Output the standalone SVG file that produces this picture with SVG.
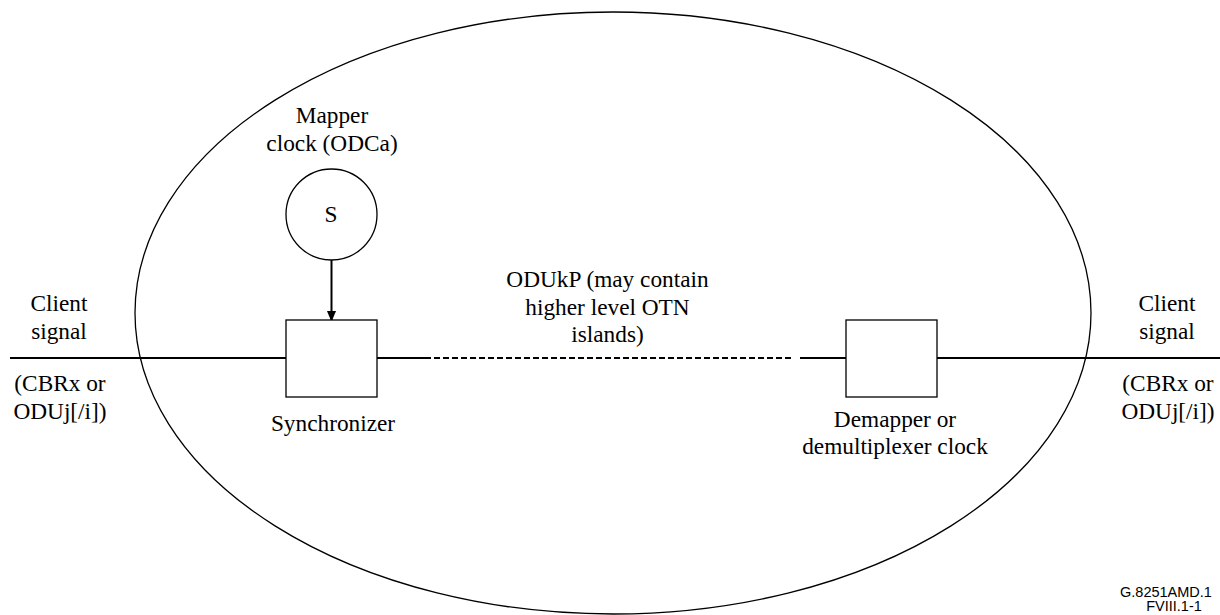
<svg xmlns="http://www.w3.org/2000/svg" width="1220" height="615" viewBox="0 0 1220 615">
<style>
  .t { font-family: "Liberation Serif", "Times New Roman", serif; font-size: 23.3px; fill: #000; text-anchor: middle; }
  .f { font-family: "Liberation Sans", Arial, sans-serif; font-size: 14.5px; fill: #000; text-anchor: middle; }
  .shape { fill: #fff; stroke: #000; stroke-width: 1.3; }
  .wire { fill: none; stroke: #000; stroke-width: 2; }
  .dash { fill: none; stroke: #000; stroke-width: 2; stroke-dasharray: 6 3; }
</style>
<defs>
  <marker id="arrow" markerWidth="11" markerHeight="13" refX="11" refY="5.5" orient="auto" markerUnits="userSpaceOnUse" viewBox="0 0 13 11">
    <path d="M0,0 L13,5.5 L0,11 z" fill="#000"/>
  </marker>
</defs>
<rect width="1220" height="615" fill="#fff"/>

<g id="domain">
  <ellipse cx="613" cy="313" rx="478" ry="301" fill="none" stroke="#000" stroke-width="1.3"/>
</g>

<g id="connectors">
  <line class="wire" x1="10" y1="358" x2="286" y2="358"/>
  <line class="wire" x1="377" y1="358" x2="425" y2="358"/>
  <line class="dash" x1="425" y1="358" x2="794" y2="358"/>
  <line class="wire" x1="800" y1="358" x2="846" y2="358"/>
  <line class="wire" x1="937" y1="358" x2="1220" y2="358"/>
  <line class="wire" x1="331.5" y1="260" x2="331.5" y2="320" marker-end="url(#arrow)"/>
</g>

<g id="mapper-clock">
  <circle class="shape" cx="331.5" cy="214.5" r="45.5"/>
  <text class="t" x="331" y="221.5">S</text>
  <text class="t" x="332" y="123">Mapper</text>
  <text class="t" x="332" y="151">clock (ODCa)</text>
</g>

<g id="synchronizer">
  <rect class="shape" x="286" y="320" width="91" height="77"/>
  <text class="t" x="333" y="431">Synchronizer</text>
</g>

<g id="demapper">
  <rect class="shape" x="846" y="320" width="91" height="77"/>
  <text class="t" x="895" y="427">Demapper or</text>
  <text class="t" x="895" y="454">demultiplexer clock</text>
</g>

<g id="odukp-label">
  <text class="t" x="607.5" y="287">ODUkP (may contain</text>
  <text class="t" x="607.5" y="315">higher level OTN</text>
  <text class="t" x="607.5" y="342">islands)</text>
</g>

<g id="client-left">
  <text class="t" x="59" y="311">Client</text>
  <text class="t" x="59" y="339">signal</text>
  <text class="t" x="60" y="391">(CBRx or</text>
  <text class="t" x="60" y="419">ODUj[/i])</text>
</g>

<g id="client-right">
  <text class="t" x="1167" y="311">Client</text>
  <text class="t" x="1167" y="339">signal</text>
  <text class="t" x="1168" y="391">(CBRx or</text>
  <text class="t" x="1168" y="419">ODUj[/i])</text>
</g>

<g id="figure-id">
  <text class="f" x="1166" y="597">G.8251AMD.1</text>
  <text class="f" x="1174" y="611">FVIII.1-1</text>
</g>
</svg>
